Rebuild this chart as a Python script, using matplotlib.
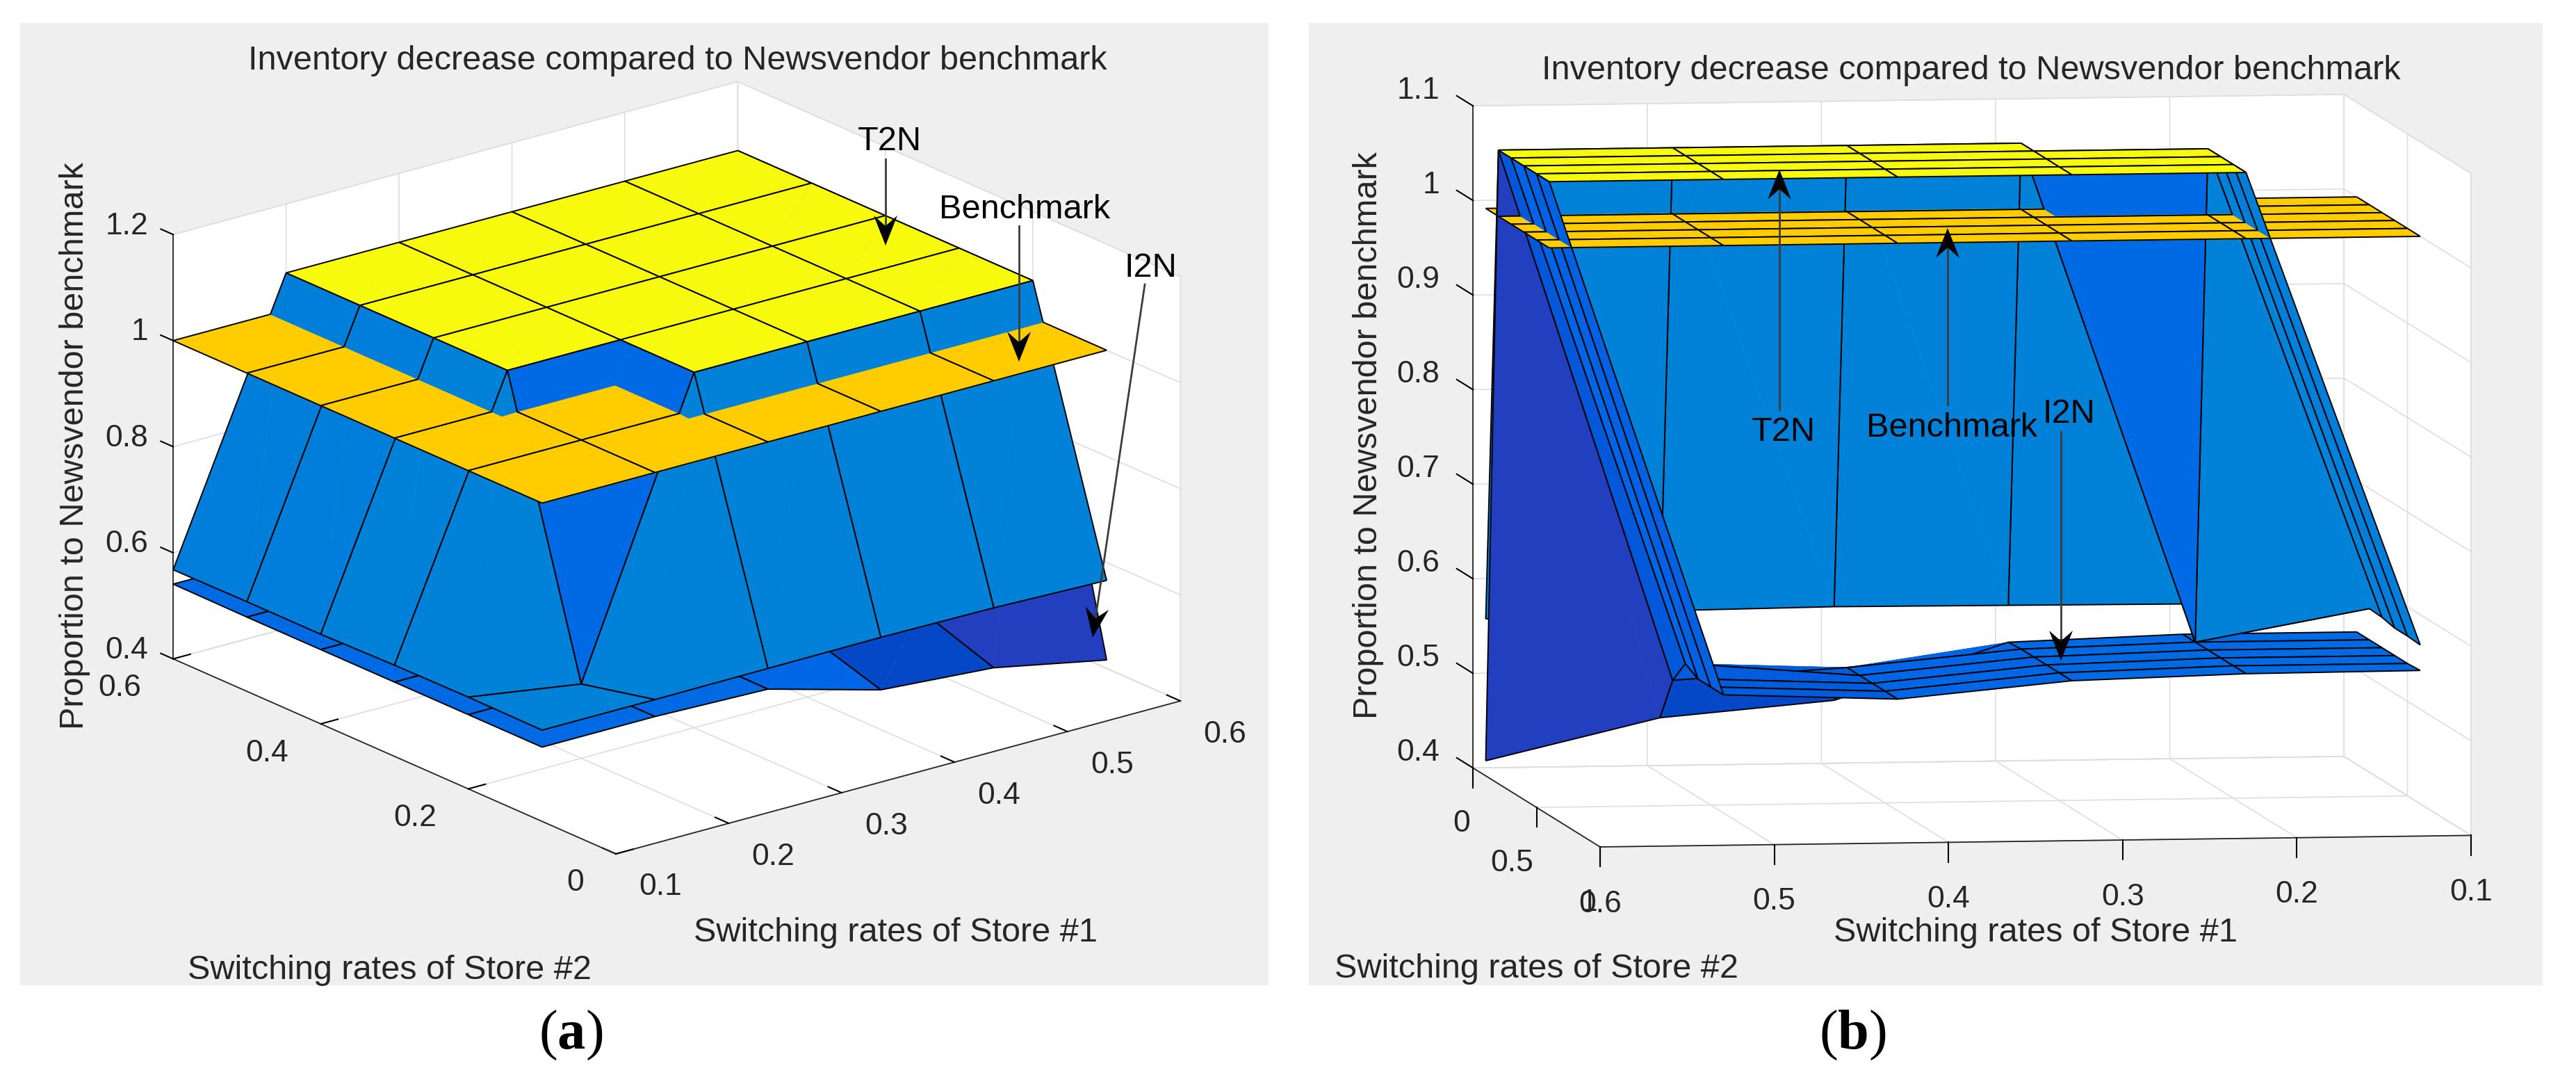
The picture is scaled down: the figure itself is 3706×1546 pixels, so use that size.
import numpy as np
import matplotlib
matplotlib.use('Agg')
import matplotlib.pyplot as plt
from matplotlib.colors import LinearSegmentedColormap, Normalize
from matplotlib.patches import Rectangle, Polygon
from matplotlib.lines import Line2D
from mpl_toolkits.mplot3d import proj3d
from mpl_toolkits.mplot3d.art3d import Poly3DCollection, Line3DCollection

W, H = 3706, 1546
plt.rcParams['font.family'] = ['Liberation Sans', 'DejaVu Sans']
plt.rcParams['mathtext.fontset'] = 'custom'
plt.rcParams['mathtext.bf'] = 'Liberation Serif:bold'
plt.rcParams['mathtext.rm'] = 'Liberation Serif'

store1 = [0.1, 0.2, 0.3, 0.4, 0.5, 0.6]
store2 = [0.1, 0.2, 0.3, 0.4, 0.5, 0.6]

# rows follow store2, columns follow store1
t2n = [[0.572, 0.572, 0.573, 0.574, 0.572, 0.566],
       [0.573, 0.54, 1.07, 1.07, 1.07, 1.07],
       [0.572, 1.07, 1.07, 1.07, 1.07, 1.07],
       [0.569, 1.07, 1.07, 1.07, 1.07, 1.07],
       [0.569, 1.07, 1.07, 1.07, 1.07, 1.07],
       [0.568, 1.07, 1.07, 1.07, 1.07, 1.07]]
i2n = [[0.54, 0.54, 0.534, 0.475, 0.459, 0.416],
       [0.54, 0.54, 0.535, 0.518, 0.507, 1.07],
       [0.54, 0.54, 0.535, 0.518, 0.533, 1.07],
       [0.54, 0.54, 0.535, 0.518, 0.525, 1.07],
       [0.54, 0.54, 0.535, 0.518, 0.525, 1.07],
       [0.541, 0.54, 0.535, 0.518, 0.525, 1.07]]
bench = [[1.0, 1.0, 1.0, 1.0, 1.0, 1.0],
         [1.0, 1.0, 1.0, 1.0, 1.0, 1.0],
         [1.0, 1.0, 1.0, 1.0, 1.0, 1.0],
         [1.0, 1.0, 1.0, 1.0, 1.0, 1.0],
         [1.0, 1.0, 1.0, 1.0, 1.0, 1.0],
         [1.0, 1.0, 1.0, 1.0, 1.0, 1.0]]

x_ticks = [0.1, 0.2, 0.3, 0.4, 0.5, 0.6]
x_labels = ['0.1', '0.2', '0.3', '0.4', '0.5', '0.6']
a_y_ticks = [0, 0.2, 0.4, 0.6]
a_y_labels = ['0', '0.2', '0.4', '0.6']
a_z_ticks = [0.4, 0.6, 0.8, 1.0, 1.2]
a_z_labels = ['0.4', '0.6', '0.8', '1', '1.2']
b_y_ticks = [0, 0.5, 1]
b_y_labels = ['0', '0.5', '1']
b_z_ticks = [0.4, 0.5, 0.6, 0.7, 0.8, 0.9, 1.0, 1.1]
b_z_labels = ['0.4', '0.5', '0.6', '0.7', '0.8', '0.9', '1', '1.1']

title = 'Inventory decrease compared to Newsvendor benchmark'
zlabel = 'Proportion to Newsvendor benchmark'
xlabel = 'Switching rates of Store #1'
ylabel = 'Switching rates of Store #2'

cmap = LinearSegmentedColormap.from_list('old_parula', [
    (0, '#2B34B0'), (0.066, '#2040C0'), (0.09, '#0448C8'), (0.18, '#0066E6'),
    (0.235, '#0080D8'), (0.5, '#20B0A0'), (0.893, '#FFCC00'), (1, '#F8FA0D')])
norm = Normalize(0.416, 1.07)
TXT = '#262626'
GRID = '#dedede'
FS = 35
TICK_FS = 32


def px(x, y):
    return x / W, 1 - y / H


def crossing(p, q, z0):
    t = (z0 - p[2]) / (q[2] - p[2])
    return (p[0] + t * (q[0] - p[0]), p[1] + t * (q[1] - p[1]), z0)


def split_poly(pts, z0):
    # cut a polygon in two along the plane z = z0
    below, above = [], []
    for i in range(len(pts)):
        p, q = pts[i], pts[(i + 1) % len(pts)]
        if p[2] <= z0:
            below.append(p)
        if p[2] >= z0:
            above.append(p)
        if (p[2] - z0) * (q[2] - z0) < 0:
            c = crossing(p, q, z0)
            below.append(c)
            above.append(c)
    return below, above


def split_edges(pts, z0):
    below, above = [], []
    for i in range(len(pts)):
        p, q = pts[i], pts[(i + 1) % len(pts)]
        if (p[2] - z0) * (q[2] - z0) < 0:
            c = crossing(p, q, z0)
            if p[2] < z0:
                below.append([p, c])
                above.append([c, q])
            else:
                above.append([p, c])
                below.append([c, q])
        elif max(p[2], q[2]) <= z0:
            below.append([p, q])
        else:
            above.append([p, q])
    return below, above


def add_piece(ax, polys, edges, color, order):
    polys = [p for p in polys if len(p) >= 3]
    if polys:
        ax.add_collection3d(Poly3DCollection(polys, facecolors=color, edgecolors=color,
                                             linewidths=0.4, zorder=order), autolim=False)
    if edges:
        ax.add_collection3d(Line3DCollection(edges, colors='k', linewidths=1.4, zorder=order + 1),
                            autolim=False)
    return order + 2


def split_cell(quad, z0):
    # the cell folds along its first diagonal, each half is cut on its own
    t1b, t1a = split_poly([quad[0], quad[1], quad[2]], z0)
    t2b, t2a = split_poly([quad[0], quad[2], quad[3]], z0)
    eb, ea = split_edges(quad, z0)
    return ([t1b, t2b], eb), ([t1a, t2a], ea)


def draw_surfaces(ax, i2n_front=()):
    # back to front over the grid, lower surface first inside a cell
    ix = list(range(4, -1, -1)) if np.cos(np.radians(ax.azim)) < 0 else list(range(5))
    iy = list(range(4, -1, -1)) if np.sin(np.radians(ax.azim)) < 0 else list(range(5))
    order = 10
    for j in iy:
        for i in ix:
            cells = []
            for zz in (i2n, t2n, bench):
                quad = [(store1[i], store2[j], zz[j][i]), (store1[i + 1], store2[j], zz[j][i + 1]),
                        (store1[i + 1], store2[j + 1], zz[j + 1][i + 1]), (store1[i], store2[j + 1], zz[j + 1][i])]
                cells.append((quad, cmap(norm(zz[j][i]))))
            low_i, high_i = split_cell(cells[0][0], 1.0)
            low_t, high_t = split_cell(cells[1][0], 1.0)
            ci, ct = cells[0][1], cells[1][1]
            quad, cb = cells[2]
            flat = ([quad], [[quad[k], quad[(k + 1) % 4]] for k in range(4)])
            if (j, i) in i2n_front:
                # seen from under T2N here, I2N comes first along the view
                seq = [(low_t, ct), (flat, cb), (high_t, ct), (low_i, ci), (high_i, ci)]
            else:
                seq = [(low_i, ci), (low_t, ct), (flat, cb), (high_i, ci), (high_t, ct)]
            for (polys, edges), color in seq:
                order = add_piece(ax, polys, edges, color, order)


def style_axes(ax, xl, yl, zl, yt, zt, tickdirs, ticklens):
    ax.set_proj_type('ortho')
    ax.patch.set_alpha(0)
    ax.set_xlim(*xl, view_margin=0)
    ax.set_ylim(*yl, view_margin=0)
    ax.set_zlim(*zl, view_margin=0)
    ax.set_xticks(x_ticks)
    ax.set_yticks(yt)
    ax.set_zticks(zt)
    ax.set_xticklabels([])
    ax.set_yticklabels([])
    ax.set_zticklabels([])
    for axis, td, tl in zip((ax.xaxis, ax.yaxis, ax.zaxis), tickdirs, ticklens):
        axis.set_pane_color((1, 1, 1, 1))
        axis.pane.set_edgecolor(GRID)
        axis.line.set_color(TXT)
        axis.line.set_linewidth(1.3)
        axis._axinfo['grid'].update(color=GRID, linewidth=1.2)
        axis._axinfo['tick'].update(inward_factor=0, outward_factor=tl, linewidth={True: 1.5, False: 1.5},
                                    color='#555555')
        axis._get_tickdir = lambda position, d=td: d


def fit_axes(ax, c1, c2, t1, t2):
    # move and scale the square axes so that two box corners land on the wanted pixels
    side = 1400.0
    ax.set_position([0.2, 0.2, side / W, side / H])
    ax.apply_aspect()
    p1, p2 = to_pixels(ax, c1), to_pixels(ax, c2)
    tp1 = np.array([t1[0], H - t1[1]])
    tp2 = np.array([t2[0], H - t2[1]])
    side *= np.linalg.norm(tp2 - tp1) / np.linalg.norm(p2 - p1)
    ax.set_position([0.2, 0.2, side / W, side / H])
    ax.apply_aspect()
    shift = tp1 - to_pixels(ax, c1)
    ax.set_position([0.2 + shift[0] / W, 0.2 + shift[1] / H, side / W, side / H])
    ax.apply_aspect()


def to_pixels(ax, c):
    xp, yp, _ = proj3d.proj_transform(c[0], c[1], c[2], ax.get_proj())
    return ax.transData.transform((xp, yp))


def tick_texts(ax, points, labels, dx, dy, ha):
    for c, s in zip(points, labels):
        p = to_pixels(ax, c)
        fig.text((p[0] + dx) / W, (p[1] - dy) / H, s, ha=ha, va='center', fontsize=TICK_FS, color=TXT, zorder=20)


def arrow(a, b):
    a, b = np.array(a, float), np.array(b, float)
    u = (b - a) / np.linalg.norm(b - a)
    n = np.array([-u[1], u[0]])
    fig.add_artist(Line2D(*zip(px(*a), px(*(b - 25 * u))), transform=fig.transFigure, color='#3c3c3c', lw=2.0,
                          zorder=20))
    head = [b, b - 43 * u + 17 * n, b - 28 * u, b - 43 * u - 17 * n]
    fig.add_artist(Polygon([px(*p) for p in head], closed=True, transform=fig.transFigure, facecolor='k',
                           edgecolor='none', zorder=21))


fig = plt.figure(figsize=(W / 100, H / 100), dpi=100, facecolor='white')
fig.add_artist(Rectangle((29 / W, 1 - 1417 / H), (1825 - 29) / W, (1417 - 33) / H, transform=fig.transFigure,
                         facecolor='#efefef', edgecolor='none', zorder=-5))
fig.add_artist(Rectangle((1883 / W, 1 - 1417 / H), (3658 - 1883) / W, (1417 - 33) / H, transform=fig.transFigure,
                         facecolor='#efefef', edgecolor='none', zorder=-5))

ax1 = fig.add_axes([0.1, 0.1, 0.4, 0.8], projection='3d', computed_zorder=False)
ax1.view_init(elev=20.2, azim=-128.1)
ax1.set_box_aspect((1, 1, 0.63))
style_axes(ax1, (0.1, 0.6), (0, 0.6), (0.4, 1.2), a_y_ticks, a_z_ticks, (1, 0, 1), (0.38, 0.38, 0.35))
fit_axes(ax1, (0.1, 0, 0.4), (0.6, 0, 0.4), (886, 1228), (1699, 1011))
draw_surfaces(ax1)
tick_texts(ax1, [(v, 0, 0.4) for v in x_ticks], x_labels, 64, 48, 'center')
tick_texts(ax1, [(0.1, v, 0.4) for v in a_y_ticks], a_y_labels, -46, 42, 'right')
tick_texts(ax1, [(0.1, 0.6, v) for v in a_z_ticks], a_z_labels, -36, -12, 'right')

ax2 = fig.add_axes([0.5, 0.1, 0.4, 0.8], projection='3d', computed_zorder=False)
ax2.view_init(elev=5.2, azim=81.7)
ax2.set_box_aspect((1, 1, 0.755))
style_axes(ax2, (0.1, 0.6), (0, 1), (0.4, 1.1), b_y_ticks, b_z_ticks, (2, 2, 1), (0.37, 0.37, 1.6))
fit_axes(ax2, (0.6, 1, 0.4), (0.1, 1, 0.4), (2302, 1218), (3555, 1201))
draw_surfaces(ax2, i2n_front=[(0, 4)])
tick_texts(ax2, [(v, 1, 0.4) for v in x_ticks], x_labels, 0, 82, 'center')
tick_texts(ax2, [(0.6, v, 0.4) for v in b_y_ticks], b_y_labels, -4, 80, 'right')
tick_texts(ax2, [(0.6, 0, v) for v in b_z_ticks], b_z_labels, -48, -22, 'right')

for (tx, ty), s, rot in [((975, 88), title, 0), ((108, 641), zlabel, 90),
                         ((1288, 1341), xlabel, 0), ((561, 1395), ylabel, 0),
                         ((2836, 101), title, 0), ((1969, 626), zlabel, 90),
                         ((2929, 1341), xlabel, 0), ((2210, 1394), ylabel, 0)]:
    fig.text(*px(tx, ty), s, ha='center', va='center', rotation=rot, fontsize=FS, color=TXT, zorder=20)

for (tx, ty), s in [((821, 1489), r'($\mathbf{a}$)'), ((2665, 1489), r'($\mathbf{b}$)')]:
    fig.text(*px(tx, ty), s, ha='center', va='center', fontsize=58, family='Liberation Serif', color='k', zorder=20)

notes = [('T2N', (1280, 204), (1274, 229), (1274, 353)),
         ('Benchmark', (1474, 301), (1466, 325), (1466, 520)),
         ('I2N', (1655, 385), (1647, 409), (1572, 917)),
         ('T2N', (2566, 622), (2560, 589), (2560, 244)),
         ('Benchmark', (2808, 616), (2802, 582), (2802, 328)),
         ('I2N', (2976, 596), (2965, 621), (2965, 950))]
for s, tp, a, b in notes:
    fig.text(*px(*tp), s, ha='center', va='center', fontsize=FS, color='k', zorder=20)
    arrow(a, b)

fig.savefig('out.png', dpi=100, facecolor='white')
